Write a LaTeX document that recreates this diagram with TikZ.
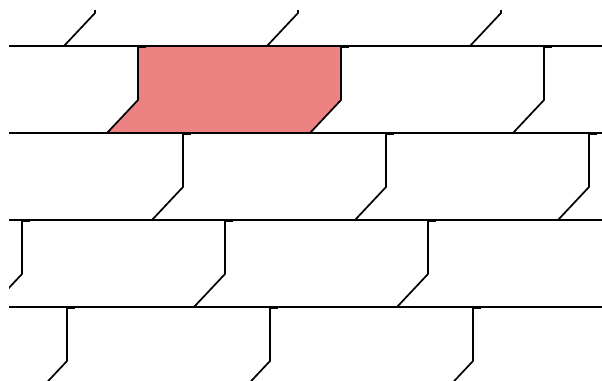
\documentclass[tikz,border=0pt]{standalone}
\definecolor{brickfill}{RGB}{236,130,130}
\tikzset{
  joint/.style={line width=1.7pt, line join=miter},
  course/.style={line width=1.7pt},
  tick/.style={line width=1.2pt}
}
\begin{document}
\begin{tikzpicture}[x=1pt,y=-1pt]
\useasboundingbox (0,0) rectangle (602,380);
\fill[white] (0,0) rectangle (602,380);
% highlighted brick
\fill[brickfill] (138,46) -- (341,46) -- (341,100) -- (310,133) -- (107,133) -- (138,100) -- cycle;
\begin{scope}
\clip (9,10) rectangle (602,380);
% horizontal courses
\foreach \y in {46,133,220,307}
  \draw[course] (9,\y) -- (602,\y);
% joints: vertical then slanted
\foreach \t/\xa in {-41/95, 46/138, 133/183, 220/22, 307/67}{
  \foreach \k in {0,1,2}{
    \pgfmathsetmacro{\X}{\xa+203*\k}
    \draw[joint] (\X,\t) -- (\X,\t+54) -- (\X-31,\t+87);
    \draw[tick] (\X,\t+1.8) -- (\X+8,\t+1.8);
  }
}
\end{scope}
\end{tikzpicture}
\end{document}
